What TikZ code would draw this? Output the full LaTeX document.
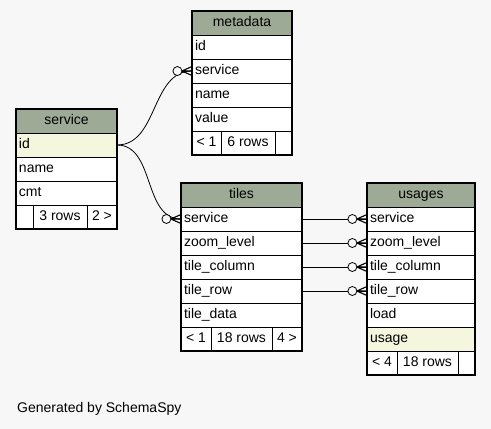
\documentclass[tikz,border=0pt]{standalone}
\usepackage{fontspec}
\setmainfont{Liberation Sans}
\usetikzlibrary{positioning,decorations.markings}
\definecolor{bgc}{RGB}{247,247,247}
\definecolor{headc}{RGB}{157,171,150}
\definecolor{keyc}{RGB}{244,246,222}

\tikzset{
  cell/.style={draw,line width=.8pt,minimum height=24pt,inner sep=0pt,outer sep=0pt,
    text height=10pt,text depth=3pt,font=\fontsize{14}{16}\selectfont},
  head/.style={cell,fill=headc,minimum width=#1,anchor=north west},
  row/.style={cell,fill=white,text width=#1,inner xsep=3pt,align=left},
  foot/.style={cell,fill=white,minimum width=#1,anchor=north west},
  frame/.style={line width=1.2pt},
  fk/.style={line width=.8pt,postaction={decorate},
    decoration={markings,mark=at position -0.1pt with {
      \draw[line width=1.1pt] (-10pt,0) -- (0,4.5pt) (-10pt,0) -- (0,-4.5pt) (-10pt,0) -- (0,0);
      \draw[fill=bgc] (-14.5pt,0) circle[radius=4.5pt];}}}
}

\begin{document}
\begin{tikzpicture}[x=1pt,y=-1pt]
\fill[bgc] (0,0) rectangle (491,429);

% service
\node[head=101pt] (s) at (16,109) {service};
\node[row=95pt,fill=keyc,below=0pt of s] (s-id) {id};
\node[row=95pt,below=0pt of s-id] (s-name) {name};
\node[row=95pt,below=0pt of s-name] (s-cmt) {cmt};
\node[foot=17pt] (s-f1) at (s-cmt.south west) {};
\node[foot=54pt,right=0pt of s-f1] (s-f2) {3 rows};
\node[foot=30pt,right=0pt of s-f2] (s-f3) {2 >};
\draw[frame] (s.north west) rectangle (s-f3.south east);

% metadata
\node[head=100pt] (m) at (192,11) {metadata};
\node[row=94pt,below=0pt of m] (m-id) {id};
\node[row=94pt,below=0pt of m-id] (m-service) {service};
\node[row=94pt,below=0pt of m-service] (m-name) {name};
\node[row=94pt,below=0pt of m-name] (m-value) {value};
\node[foot=29pt] (m-f1) at (m-value.south west) {< 1};
\node[foot=54pt,right=0pt of m-f1] (m-f2) {6 rows};
\node[foot=17pt,right=0pt of m-f2] (m-f3) {};
\draw[frame] (m.north west) rectangle (m-f3.south east);

% tiles
\node[head=121pt] (t) at (181,183) {tiles};
\node[row=115pt,below=0pt of t] (t-service) {service};
\node[row=115pt,below=0pt of t-service] (t-zoom) {zoom\_level};
\node[row=115pt,below=0pt of t-zoom] (t-col) {tile\_column};
\node[row=115pt,below=0pt of t-col] (t-row) {tile\_row};
\node[row=115pt,below=0pt of t-row] (t-data) {tile\_data};
\node[foot=30pt] (t-f1) at (t-data.south west) {< 1};
\node[foot=61pt,right=0pt of t-f1] (t-f2) {18 rows};
\node[foot=30pt,right=0pt of t-f2] (t-f3) {4 >};
\draw[frame] (t.north west) rectangle (t-f3.south east);

% usages
\node[head=108pt] (u) at (367,183) {usages};
\node[row=102pt,below=0pt of u] (u-service) {service};
\node[row=102pt,below=0pt of u-service] (u-zoom) {zoom\_level};
\node[row=102pt,below=0pt of u-zoom] (u-col) {tile\_column};
\node[row=102pt,below=0pt of u-col] (u-row) {tile\_row};
\node[row=102pt,below=0pt of u-row] (u-load) {load};
\node[row=102pt,fill=keyc,below=0pt of u-load] (u-usage) {usage};
\node[foot=30pt] (u-f1) at (u-usage.south west) {< 4};
\node[foot=61pt,right=0pt of u-f1] (u-f2) {18 rows};
\node[foot=17pt,right=0pt of u-f2] (u-f3) {};
\draw[frame] (u.north west) rectangle (u-f3.south east);

% relations
\draw[fk] (s-id.east) to[out=0,in=180] (m-service.west);
\draw[fk] (s-id.east) to[out=0,in=180] (t-service.west);
\draw[fk] (t-service.east) -- (u-service.west);
\draw[fk] (t-zoom.east) -- (u-zoom.west);
\draw[fk] (t-col.east) -- (u-col.west);
\draw[fk] (t-row.east) -- (u-row.west);

\node[anchor=west,inner sep=0pt,font=\fontsize{14}{16}\selectfont] (gen) at (17,409) {Generated by SchemaSpy};
\end{tikzpicture}
\end{document}
